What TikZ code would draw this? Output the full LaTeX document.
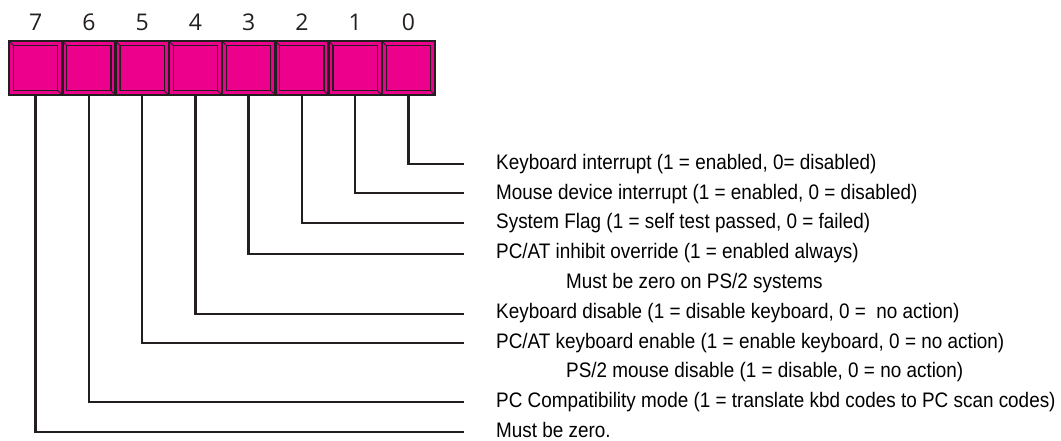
\documentclass[tikz,border=0pt]{standalone}
\usepackage{fontspec}
\setmainfont{Liberation Sans}
\newfontfamily\lblfont[FakeStretch=0.9]{Liberation Sans}
\newfontfamily\digfont{Open Sans}
\definecolor{cellpink}{HTML}{EC008C}
\definecolor{ink}{HTML}{231F20}
\tikzset{
  cellbox/.style={draw=ink, line width=2.5pt, fill=cellpink, minimum width=53.25pt, minimum height=54pt, inner sep=0pt, outer sep=0pt},
  innerbox/.style={draw=ink, line width=1.4pt},
  bevel/.style={draw=ink, line width=0.8pt},
  bitnum/.style={font=\digfont\fontsize{23}{26}\selectfont, text=ink, inner sep=0pt},
  desc/.style={font=\lblfont\fontsize{21}{24}\selectfont, text=black, anchor=base west, inner sep=0pt},
  conn/.style={draw=ink, line width=2.5pt}
}
\begin{document}
\begin{tikzpicture}[x=1pt,y=-1pt]
\useasboundingbox (0,0) rectangle (1061,441);
% cells
\foreach \i in {7,6,5,4,3,2,1,0}{
  \pgfmathsetmacro{\cx}{9+53.25*(7-\i)+26.625}
  \node[cellbox] (b\i) at (\cx,68) {};
  \draw[innerbox] ([shift={(4.5,4.5)}]b\i.north west) rectangle ([shift={(-4.5,-4.5)}]b\i.south east);
  \draw[bevel] (b\i.north west) -- ([shift={(4.5,4.5)}]b\i.north west);
  \draw[bevel] (b\i.south east) -- ([shift={(-4.5,-4.5)}]b\i.south east);
  \node[bitnum] (n\i) at (\cx,22) {\i};
}
% descriptions
\node[desc] (t0) at (496,169.5) {Keyboard interrupt (1 = enabled, 0= disabled)};
\node[desc] (t1) at (496,199.25) {Mouse device interrupt (1 = enabled, 0 = disabled)};
\node[desc] (t2) at (496,229) {System Flag (1 = self test passed, 0 = failed)};
\node[desc] (t3) at (496,258.75) {PC/AT inhibit override (1 = enabled always)};
\node[desc] (t3b) at (566,288.5) {Must be zero on PS/2 systems};
\node[desc] (t4) at (496,318.25) {Keyboard disable (1 = disable keyboard, 0 =\ \ no action)};
\node[desc] (t5) at (496,348) {PC/AT keyboard enable (1 = enable keyboard, 0 = no action)};
\node[desc] (t5b) at (566,377.75) {PS/2 mouse disable (1 = disable, 0 = no action)};
\node[desc] (t6) at (496,407.5) {PC Compatibility mode (1 = translate kbd codes to PC scan codes)};
\node[desc] (t7) at (496,437.25) {Must be zero.};
% connector ends
\coordinate (e0) at (464,164);
\coordinate (e1) at (464,193);
\coordinate (e2) at (464,223);
\coordinate (e3) at (464,254);
\coordinate (e4) at (464,314);
\coordinate (e5) at (464,343);
\coordinate (e6) at (464,402);
\coordinate (e7) at (464,432);
\foreach \i in {0,...,7}{
  \draw[conn] (b\i.south) |- (e\i);
}
\end{tikzpicture}
\end{document}
